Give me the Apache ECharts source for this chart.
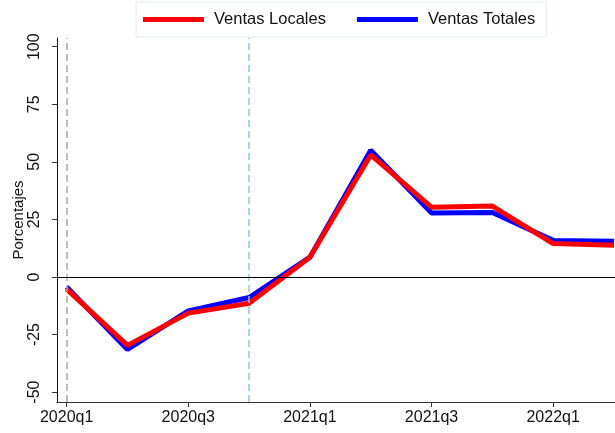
<!DOCTYPE html>
<html>
<head>
<meta charset="utf-8">
<script src="https://cdn.jsdelivr.net/npm/echarts@6/dist/echarts.min.js"></script>
<style>html,body{margin:0;padding:0;background:#fff}#c{width:615px;height:433px}</style>
</head>
<body>
<div id="c"></div>
<script>
const quarters = ['2020q1','2020q2','2020q3','2020q4','2021q1','2021q2','2021q3','2021q4','2022q1','2022q2'];
const ventasLocales = [-5.3, -29.7, -15.7, -11.4, 8.6, 53.0, 30.3, 30.8, 14.5, 13.8];
const ventasTotales = [-4.4, -31.5, -14.7, -8.9, 8.6, 55.0, 27.8, 28.0, 15.9, 15.5];
const xTickIdx = [0, 2, 4, 6, 8];
const yTicks = [-50, -25, 0, 25, 50, 75, 100];
const vLines = [0, 3];

const FONT = "'Liberation Sans', Arial, sans-serif";
const chart = echarts.init(document.getElementById('c'), null, {renderer: 'canvas'});
const toPairs = arr => arr.map((v, i) => [i, v]);

chart.setOption({
  animation: false,
  backgroundColor: '#fff',
  grid: {left: 57, right: 0, top: 38, bottom: 31, containLabel: false, outerBoundsMode: 'none'},
  legend: {
    left: 136, top: 2,
    data: ['Ventas Locales', 'Ventas Totales'],
    icon: 'rect', itemWidth: 61, itemHeight: 5, itemGap: 31,
    padding: [9, 11, 9, 7],
    borderColor: '#e3eaea', borderWidth: 1,
    textStyle: {fontFamily: FONT, fontSize: 16.5, color: '#111', padding: [0, 0, 0, 5]}
  },
  xAxis: {
    type: 'value', min: -0.159, max: 9.017,
    splitLine: {show: false},
    axisLine: {show: true, onZero: false, lineStyle: {color: '#333', width: 1}},
    axisTick: {show: true, customValues: xTickIdx, length: 5, lineStyle: {color: '#333'}},
    axisLabel: {customValues: xTickIdx, formatter: v => quarters[Math.round(v)], fontFamily: FONT, fontSize: 16, color: '#111', margin: 8}
  },
  yAxis: {
    type: 'value', min: -54.3, max: 103.8,
    name: 'Porcentajes', nameLocation: 'middle', nameGap: 31, nameMoveOverlap: false,
    nameTextStyle: {fontFamily: FONT, fontSize: 15, color: '#111'},
    splitLine: {show: false},
    axisLine: {show: true, onZero: false, lineStyle: {color: '#111', width: 1}},
    axisTick: {show: true, customValues: yTicks, length: 5, lineStyle: {color: '#333'}},
    axisLabel: {customValues: yTicks, rotate: 90, fontFamily: FONT, fontSize: 16, color: '#111', margin: 14}
  },
  series: [
    {
      name: 'Ventas Totales', type: 'line', data: toPairs(ventasTotales),
      showSymbol: false, symbol: 'none', color: '#0000ff',
      lineStyle: {width: 5, color: '#0000ff'}, z: 3,
      markLine: {
        silent: true, symbol: 'none', label: {show: false}, animation: false,
        data: [
          {xAxis: vLines[0], lineStyle: {color: '#a8a8a8', type: [7, 4], width: 1.5}},
          {xAxis: vLines[1], lineStyle: {color: '#8ec5ea', type: [7, 4], width: 1.5}},
          {yAxis: 0, lineStyle: {color: '#000', type: 'solid', width: 1}}
        ]
      }
    },
    {
      name: 'Ventas Locales', type: 'line', data: toPairs(ventasLocales),
      showSymbol: false, symbol: 'none', color: '#ff0000',
      lineStyle: {width: 5, color: '#ff0000'}, z: 4
    }
  ]
});
</script>
</body>
</html>
